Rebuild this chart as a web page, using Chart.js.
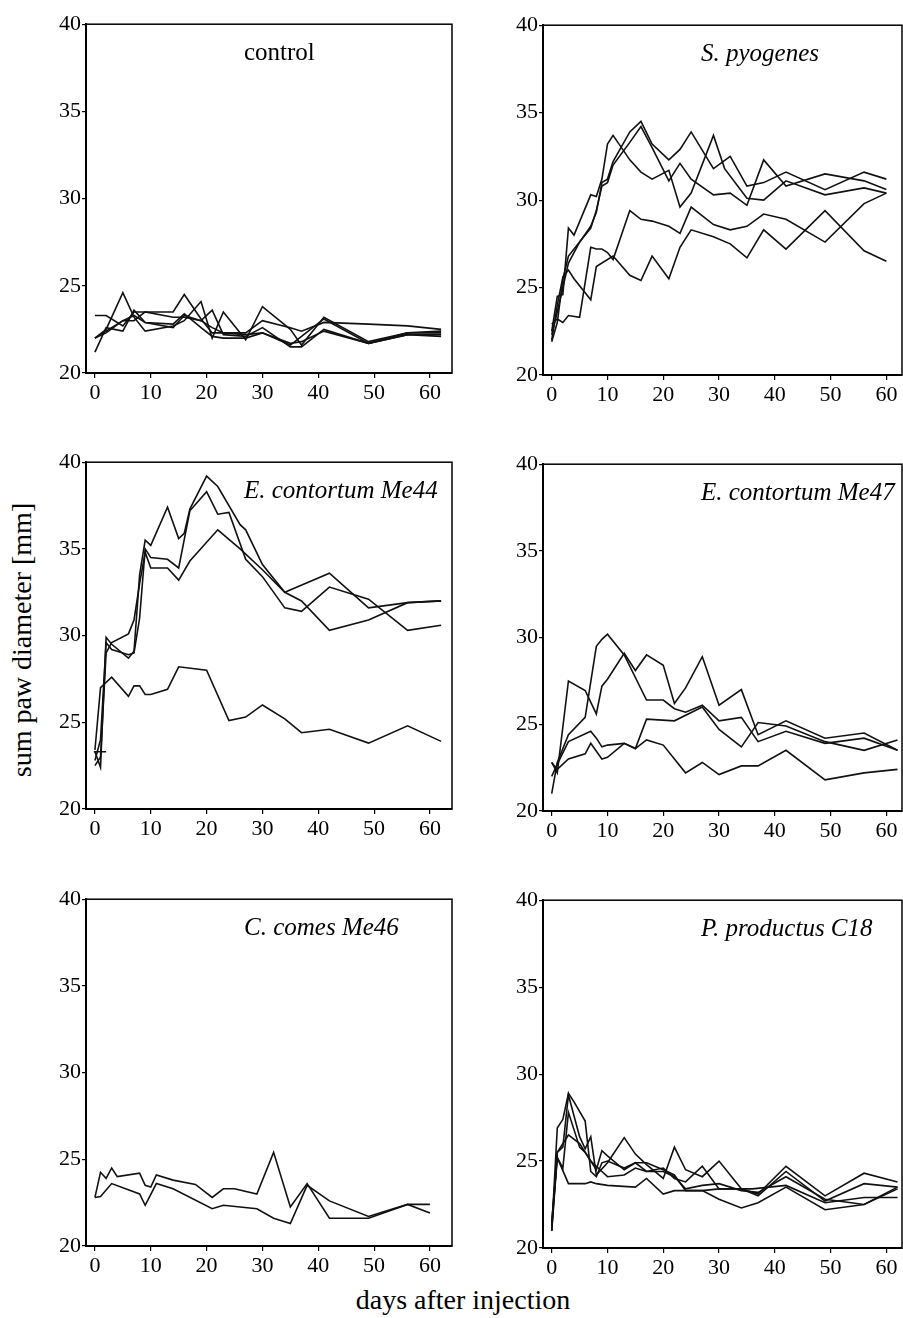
<!DOCTYPE html>
<html>
<head>
<meta charset="utf-8">
<title>sum paw diameter</title>
<script src="https://cdn.jsdelivr.net/npm/chart.js@4.4.1/dist/chart.umd.min.js"></script>
<style>
  html, body { margin: 0; padding: 0; background: #fff; overflow: hidden; }
  #page { position: relative; width: 903px; height: 1318px; }
  canvas { position: absolute; }
  .lab { position: absolute; font-family: 'Liberation Serif', 'DejaVu Serif', serif; color: #000; white-space: nowrap; text-align: center; }
</style>
</head>
<body>
<div id="page">
  <div class="lab" id="ylab" style="left:-178px; top:625px; width:400px; height:30px; line-height:30px; font-size:28px; transform:rotate(-90deg);">sum paw diameter [mm]</div>
  <div class="lab" id="xlab" style="left:263px; top:1285px; width:400px; height:30px; line-height:30px; font-size:28px;">days after injection</div>
</div>
<script>
// tick labels
const xTickValues = [0, 10, 20, 30, 40, 50, 60];
const yTickValues = [20, 25, 30, 35, 40];

// control
const control1 = [[0,23.3],[2,23.3],[5,22.7],[7,23.5],[9,23.5],[14,23.5],[16,24.5],[19,23.1],[21,22.3],[23,22.3],[27,22.3],[30,23.0],[35,22.6],[37,22.4],[41,22.9],[49,22.8],[56,22.7],[62,22.5]];
const control2 = [[0,22.0],[2,22.5],[5,24.6],[7,23.2],[9,22.4],[14,22.7],[16,23.0],[19,24.1],[21,22.0],[23,23.5],[27,21.9],[30,23.8],[35,22.5],[37,21.6],[41,23.2],[49,21.8],[56,22.3],[62,22.3]];
const control3 = [[0,21.2],[2,22.6],[5,22.4],[7,23.6],[9,22.9],[14,22.6],[16,23.3],[19,23.0],[21,23.6],[23,22.2],[27,22.1],[30,22.6],[35,21.5],[37,21.5],[41,22.5],[49,21.7],[56,22.2],[62,22.2]];
const control4 = [[0,22.0],[2,22.4],[5,23.0],[7,23.3],[9,22.9],[14,22.8],[16,23.4],[19,22.6],[21,22.1],[23,22.0],[27,22.0],[30,22.3],[35,21.7],[37,21.8],[41,22.4],[49,21.7],[56,22.2],[62,22.1]];
const control5 = [[0,22.0],[2,22.3],[5,23.0],[7,23.0],[9,23.5],[14,23.2],[16,23.2],[19,23.0],[21,22.6],[23,22.3],[27,22.2],[30,22.3],[35,21.6],[37,22.1],[41,23.1],[49,21.7],[56,22.3],[62,22.4]];

// S. pyogenes
const pyo1 = [[0,22.3],[1,23.6],[2,25.0],[3,26.4],[5,27.6],[7,28.5],[8,29.3],[9,31.0],[10,31.2],[11,32.2],[14,33.9],[16,34.5],[18,33.2],[21,32.3],[23,32.9],[25,33.9],[29,31.8],[32,32.5],[35,30.8],[38,31.0],[42,31.6],[49,30.6],[56,31.6],[60,31.2]];
const pyo2 = [[0,22.5],[1,24.5],[2,24.6],[3,28.4],[4,28.0],[7,30.3],[8,30.2],[9,31.2],[10,33.2],[11,33.7],[14,32.3],[16,31.6],[18,31.2],[21,31.7],[23,29.6],[25,30.4],[29,33.7],[31,31.8],[35,30.1],[38,30.0],[42,31.1],[49,30.3],[56,30.7],[60,30.4]];
const pyo3 = [[0,21.9],[1,23.0],[2,25.5],[3,26.8],[5,27.6],[7,28.4],[8,29.4],[9,30.8],[10,31.0],[11,32.0],[14,33.3],[16,34.2],[18,33.0],[21,31.1],[23,32.1],[25,31.2],[29,30.3],[32,30.4],[35,29.7],[38,32.3],[42,30.8],[49,31.5],[56,31.1],[60,30.6]];
const pyo4 = [[0,22.9],[1,23.2],[2,23.0],[3,23.4],[5,23.3],[7,27.3],[8,27.2],[9,27.2],[10,27.0],[11,26.6],[14,29.4],[16,28.9],[18,28.8],[21,28.5],[23,28.1],[25,29.6],[29,28.6],[32,28.3],[35,28.5],[38,29.2],[42,28.9],[49,27.6],[56,29.8],[60,30.4]];
const pyo5 = [[0,22.0],[1,24.0],[2,25.6],[3,26.0],[4,25.5],[7,24.3],[8,26.2],[11,26.8],[14,25.7],[16,25.4],[18,26.8],[21,25.5],[23,27.3],[25,28.3],[29,27.9],[32,27.5],[35,26.7],[38,28.3],[42,27.2],[49,29.4],[56,27.1],[60,26.5]];

// E. contortum Me44
const me44a = [[0,23.3],[1,22.4],[2,29.9],[3,29.5],[6,28.7],[7,29.1],[8,33.5],[9,35.5],[10,35.2],[13,37.4],[15,35.6],[16,35.9],[17,37.3],[20,39.2],[22,38.6],[26,36.4],[27,36.1],[30,34.1],[34,32.5],[42,33.6],[49,31.6],[56,31.9],[62,32.0]];
const me44b = [[0,22.8],[1,24.0],[2,29.6],[3,29.2],[6,28.9],[7,29.0],[8,31.0],[9,35.0],[10,34.5],[13,34.4],[15,33.9],[17,37.2],[20,38.3],[22,37.0],[24,37.1],[27,34.4],[30,33.4],[34,31.6],[37,31.4],[42,32.8],[49,32.1],[56,30.3],[62,30.6]];
const me44c = [[0,22.5],[1,23.0],[2,29.0],[3,29.6],[6,30.1],[7,30.9],[8,33.0],[9,34.8],[10,33.9],[13,33.9],[15,33.2],[17,34.3],[22,36.1],[26,35.0],[30,33.8],[34,32.5],[37,32.0],[42,30.3],[49,30.9],[56,31.9],[62,32.0]];
const me44d = [[0,23.4],[1,27.0],[3,27.6],[6,26.5],[7,27.1],[8,27.1],[9,26.6],[10,26.6],[13,26.9],[15,28.2],[20,28.0],[24,25.1],[27,25.3],[30,26.0],[34,25.2],[37,24.4],[42,24.6],[49,23.8],[56,24.8],[62,23.9]];
const me44mark = [[-0.2,23.3],[2.0,23.3]];

// E. contortum Me47
const me47a = [[0,21.0],[1,22.8],[3,24.4],[6,25.4],[8,29.5],[9,29.9],[10,30.2],[13,29.0],[17,26.4],[20,26.4],[22,25.9],[24,25.7],[27,26.1],[30,25.2],[34,25.4],[37,24.0],[42,24.6],[49,23.9],[56,24.2],[62,23.5]];
const me47b = [[0,22.8],[1,22.2],[3,27.5],[6,26.95],[8,25.6],[9,27.2],[10,27.6],[13,29.1],[15,28.1],[17,29.0],[20,28.4],[22,26.2],[24,27.1],[27,28.9],[30,26.1],[34,27.0],[37,24.4],[42,25.2],[49,24.2],[56,24.5],[62,23.5]];
const me47c = [[0,22.0],[1,22.7],[3,24.0],[7,24.6],[8,24.2],[9,23.7],[10,23.8],[13,23.9],[15,23.6],[17,25.3],[22,25.2],[27,26.0],[30,24.7],[34,23.7],[37,25.1],[42,24.9],[49,24.0],[56,23.5],[62,24.1]];
const me47d = [[0,22.8],[1,22.4],[3,23.0],[6,23.3],[7,23.9],[9,23.0],[10,23.1],[13,23.9],[15,23.6],[17,24.1],[20,23.8],[24,22.2],[27,22.8],[30,22.1],[34,22.6],[37,22.6],[42,23.5],[49,21.8],[56,22.2],[62,22.4]];

// C. comes Me46
const me46a = [[0,22.8],[1,24.25],[2,23.9],[3,24.5],[4,24.0],[8,24.2],[9,23.5],[10,23.4],[11,24.1],[14,23.8],[18,23.55],[21,22.8],[23,23.3],[25,23.3],[29,23.0],[32,25.4],[35,22.25],[38,23.6],[42,21.6],[49,21.6],[56,22.4],[60,22.4]];
const me46b = [[0,22.8],[1,22.85],[3,23.6],[8,23.0],[9,22.35],[11,23.6],[14,23.3],[21,22.15],[23,22.35],[29,22.15],[32,21.6],[35,21.3],[38,23.5],[42,22.6],[49,21.7],[52,22.0],[56,22.4],[60,21.9]];

// P. productus C18
const c18a = [[0,21.0],[1,26.9],[2,27.4],[3,28.9],[4,28.4],[6,27.3],[7,24.4],[8,24.1],[9,24.9],[10,25.0],[13,24.6],[15,24.9],[17,24.9],[20,24.5],[22,24.2],[24,23.3],[27,23.3],[30,22.8],[34,22.3],[37,22.6],[42,23.5],[49,22.2],[56,22.5],[62,23.5]];
const c18b = [[0,21.3],[1,25.5],[2,25.8],[3,28.8],[5,26.4],[6,25.7],[7,26.4],[8,24.2],[10,24.9],[13,26.35],[15,25.4],[17,24.8],[20,24.0],[22,25.8],[24,24.5],[27,24.1],[30,25.0],[34,23.4],[37,23.1],[42,24.7],[49,23.0],[56,24.3],[62,23.8]];
const c18c = [[0,21.5],[1,25.2],[2,24.6],[3,27.8],[5,25.8],[6,25.5],[8,24.5],[9,25.6],[10,25.3],[13,24.5],[15,24.9],[17,24.4],[20,24.6],[22,24.0],[24,23.8],[27,24.7],[30,23.4],[34,23.4],[37,23.0],[42,24.4],[49,22.7],[56,23.7],[62,23.5]];
const c18d = [[0,21.0],[1,25.5],[3,26.5],[5,26.0],[7,25.0],[9,24.4],[10,24.1],[13,24.2],[15,24.6],[17,24.4],[20,24.4],[22,24.1],[24,23.4],[27,23.6],[30,23.7],[34,23.3],[37,23.2],[42,24.1],[49,22.8],[56,22.5],[62,23.4]];
const c18e = [[0,21.0],[1,25.2],[3,23.7],[6,23.7],[7,23.8],[8,23.7],[10,23.6],[15,23.5],[17,24.0],[20,23.1],[22,23.3],[27,23.3],[30,23.4],[36,23.4],[42,23.6],[49,22.6],[56,22.9],[62,22.9]];

// plot area boxes [left, top, right, bottom] in page pixels
const panels = [
  { title: 'control', italic: false, series: [control1, control2, control3, control4, control5], box: [86, 22, 452, 373], xMin: -1.6, xMax: 63.95 },
  { title: 'S. pyogenes', italic: true, series: [pyo1, pyo2, pyo3, pyo4, pyo5], box: [543, 23, 902, 375], xMin: -1.56, xMax: 62.8 },
  { title: 'E. contortum Me44', italic: true, series: [me44a, me44b, me44c, me44d, me44mark], box: [86, 460, 452, 809], xMin: -1.6, xMax: 63.95 },
  { title: 'E. contortum Me47', italic: true, series: [me47a, me47b, me47c, me47d], box: [543, 462, 902, 811], xMin: -1.56, xMax: 62.8 },
  { title: 'C. comes Me46', italic: true, series: [me46a, me46b], box: [86, 897, 452, 1246], xMin: -1.6, xMax: 63.95 },
  { title: 'P. productus C18', italic: true, series: [c18a, c18b, c18c, c18d, c18e], box: [543, 898, 902, 1248], xMin: -1.56, xMax: 62.8 }
];

const FONT = "'Liberation Serif', 'DejaVu Serif', serif";
const PAD_L = 60, PAD_T = 12, PAD_R = 3, PAD_B = 34;

const framePlugin = {
  id: 'frame',
  afterDraw(chart, args, opts) {
    const a = chart.chartArea;
    const ctx = chart.ctx;
    ctx.save();
    ctx.strokeStyle = '#000';
    ctx.lineWidth = 1.5;
    ctx.strokeRect(a.left, a.top, a.right - a.left, a.bottom - a.top);
    ctx.font = (opts.italic ? 'italic ' : '') + '25px ' + FONT;
    ctx.fillStyle = '#000';
    ctx.textBaseline = 'alphabetic';
    ctx.fillText(opts.text, a.left + 158, a.top + 36);
    ctx.restore();
  }
};

const page = document.getElementById('page');

panels.forEach(function(p) {
  const [l, t, r, b] = p.box;
  const canvas = document.createElement('canvas');
  const w = (r - l) + PAD_L + PAD_R;
  const h = (b - t) + PAD_T + PAD_B;
  canvas.width = w;
  canvas.height = h;
  canvas.style.left = (l - PAD_L) + 'px';
  canvas.style.top = (t - PAD_T) + 'px';
  canvas.style.width = w + 'px';
  canvas.style.height = h + 'px';
  page.appendChild(canvas);

  new Chart(canvas.getContext('2d'), {
    type: 'line',
    data: {
      datasets: p.series.map(function(s) {
        return {
          data: s.map(function(pt) { return { x: pt[0], y: pt[1] }; }),
          borderColor: '#111',
          borderWidth: 1.6,
          pointRadius: 0,
          tension: 0,
          fill: false
        };
      })
    },
    options: {
      responsive: false,
      animation: false,
      devicePixelRatio: 1,
      layout: { padding: { top: PAD_T, right: PAD_R, left: 0, bottom: 0 } },
      plugins: {
        legend: { display: false },
        tooltip: { enabled: false },
        frame: { text: p.title, italic: p.italic }
      },
      scales: {
        x: {
          type: 'linear',
          min: p.xMin,
          max: p.xMax,
          afterBuildTicks: function(s) { s.ticks = xTickValues.map(function(v) { return { value: v }; }); },
          afterFit: function(s) { s.height = PAD_B; },
          grid: { drawOnChartArea: false, drawTicks: true, tickLength: 5, color: '#000', lineWidth: 1.2 },
          border: { display: true, color: '#000', width: 2 },
          ticks: { color: '#000', padding: 2, maxRotation: 0, font: { family: FONT, size: 22 } }
        },
        y: {
          type: 'linear',
          min: 20,
          max: 40,
          afterBuildTicks: function(s) { s.ticks = yTickValues.map(function(v) { return { value: v }; }); },
          afterFit: function(s) { s.width = PAD_L; },
          grid: { drawOnChartArea: false, drawTicks: true, tickLength: 4, color: '#000', lineWidth: 1.2 },
          border: { display: true, color: '#000', width: 2 },
          ticks: { color: '#000', padding: 1, font: { family: FONT, size: 22 } }
        }
      }
    },
    plugins: [framePlugin]
  });
});
</script>
</body>
</html>
